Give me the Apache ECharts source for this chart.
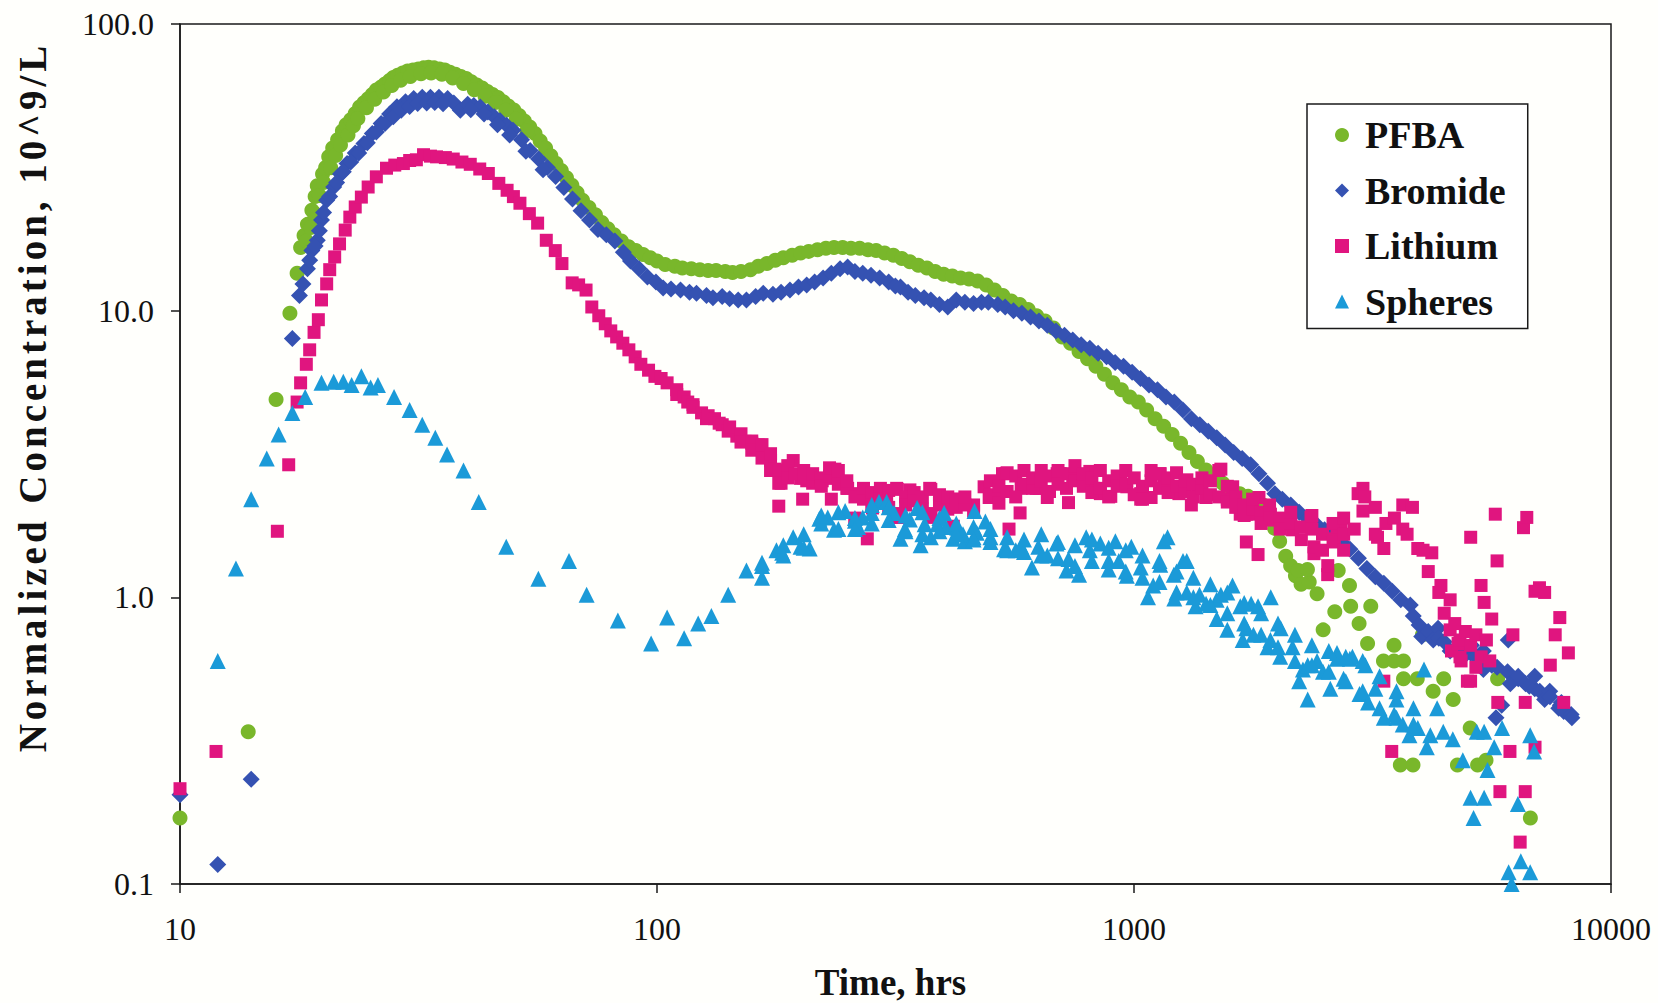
<!DOCTYPE html>
<html><head><meta charset="utf-8">
<script src="https://cdn.jsdelivr.net/npm/echarts@6/dist/echarts.min.js"></script>
<style>html,body{margin:0;padding:0;background:#fffffc;}#c{width:1658px;height:1003px;}</style>
</head><body><div id="c"></div>
<script>
const seriesNames = ['PFBA', 'Bromide', 'Lithium', 'Spheres'];
const xTickValues = [10, 100, 1000, 10000];
const yTickValues = [0.1, 1, 10, 100];
const xTitle = 'Time, hrs';
const yTitle = 'Normalized Concentration, 10^9/L';

const pfba = [[10.0,0.17],[13.9,0.34],[15.9,4.9],[17.0,9.8],[17.6,13.5],[17.9,16.6],[18.2,18.3],[18.5,20.0],[18.9,22.4],[19.2,25.0],[19.4,27.3],[19.9,30.0],[20.2,31.6],[20.5,34.4],[20.9,36.9],[21.4,39.5],[21.9,42.3],[22.3,44.5],[22.8,46.3],[23.3,48.7],[23.8,51.3],[24.3,53.1],[24.8,54.9],[25.3,56.8],[25.8,58.8],[26.4,60.3],[26.9,61.8],[27.5,63.5],[28.0,65.1],[28.6,66.3],[29.3,67.4],[30.0,68.5],[30.8,69.1],[31.6,69.7],[32.4,70.3],[33.2,70.6],[34.1,70.3],[35.0,69.7],[35.9,69.1],[36.8,67.9],[37.8,66.8],[38.8,65.6],[39.8,64.5],[40.8,62.9],[41.9,61.3],[43.0,59.8],[44.1,58.2],[45.2,56.8],[46.4,55.4],[47.6,53.6],[48.8,51.8],[50.1,50.1],[51.4,48.0],[52.7,45.9],[54.1,43.7],[55.5,41.5],[56.9,39.1],[58.4,36.9],[59.9,34.7],[61.4,32.7],[63.0,30.8],[64.6,29.1],[66.3,27.4],[68.0,25.8],[69.8,24.3],[72.0,22.9],[74.3,21.6],[76.6,20.3],[78.9,19.3],[81.3,18.4],[84.2,17.5],[87.2,16.7],[90.3,16.2],[93.5,15.7],[96.8,15.3],[100,14.9],[104,14.5],[109,14.3],[113,14.1],[118,14.0],[123,13.9],[128,13.8],[133,13.8],[139,13.7],[144,13.6],[150,13.7],[157,13.9],[163,14.3],[170,14.6],[177,15.0],[184,15.3],[192,15.6],[200,15.9],[208,16.1],[217,16.3],[226,16.5],[235,16.6],[245,16.6],[255,16.5],[266,16.5],[277,16.3],[288,16.2],[300,15.9],[313,15.6],[326,15.2],[339,14.8],[353,14.4],[368,14.1],[383,13.7],[399,13.4],[416,13.2],[433,13.0],[451,12.9],[470,12.7],[490,12.3],[510,11.8],[531,11.3],[553,10.8],[576,10.5],[600,10.1],[625,9.6],[651,9.2],[678,8.7],[707,8.1],[736,7.7],[767,7.2],[799,6.8],[832,6.4],[867,6.0],[903,5.6],[941,5.3],[980,5.0],[1021,4.8],[1063,4.5],[1107,4.2],[1154,3.95],[1202,3.7],[1252,3.45],[1304,3.2],[1358,2.98],[1415,2.78],[1474,2.62],[1535,2.5],[1599,2.4],[1666,2.3],[1735,2.25],[1807,2.2],[1864,2.1],[1972,1.74],[2020,1.57],[2080,1.39],[2130,1.29],[2180,1.19],[2240,1.11],[2330,1.13],[2420,1.03],[2210,1.24],[2310,1.25],[2680,1.24],[2830,1.1],[2492,0.77],[2636,0.89],[2846,0.93],[2964,0.81],[3088,0.69],[3136,0.93],[3334,0.60],[3509,0.60],[3509,0.68],[3673,0.60],[3673,0.52],[3925,0.52],[3617,0.26],[3845,0.26],[4025,0.74],[4238,0.47],[4459,0.52],[4669,0.44],[4765,0.26],[5252,0.26],[5470,0.27],[5068,0.35],[5784,0.52],[6776,0.17],
[18.4,17.5],[18.8,19.5],[19.1,21.9],[19.6,25.2],[20.0,28.0],[20.7,31.5],[21.2,34.8],[21.7,37.8],[22.5,41.0],[23.1,44.2],[23.6,46.8],[24.6,51.0],[25.6,54.6],[26.7,57.9],[27.8,61.0],[29.0,63.6],[30.4,65.6],[32.0,67.0],[33.6,67.5],[35.4,66.8],[37.3,64.8],[39.3,62.0],[41.4,59.0],[43.6,56.0],[45.8,53.2],[48.2,50.0],[50.7,46.5],[53.4,42.5]];

const bromide = [[10.0,0.205],[12.0,0.117],[14.1,0.232],[17.2,8.0],[17.8,11.3],[18.1,12.4],[18.5,14.0],[18.9,16.2],[19.4,17.6],[19.8,20.7],[20.3,24.3],[21.0,27.0],[21.7,30.0],[22.4,32.6],[23.3,35.5],[24.3,38.3],[25.3,41.5],[26.4,45.0],[27.5,48.5],[28.5,51.4],[29.7,53.5],[30.9,55.0],[32.2,55.5],[33.5,55.5],[34.9,55.5],[36.4,55.0],[37.5,53.0],[38.7,50.0],[40.1,52.5],[41.3,52.0],[42.6,51.3],[44.2,49.3],[45.6,47.5],[46.9,46.0],[48.4,44.3],[49.9,42.6],[52.0,39.5],[54.2,36.2],[56.5,33.8],[58.9,31.6],[61.3,29.4],[63.8,26.9],[66.5,24.5],[69.3,22.3],[72.2,20.7],[75.2,19.2],[78.3,18.4],[81.6,17.5],[85.0,16.0],[88.0,14.9],[91.7,14.0],[95.5,13.1],[99.5,12.6],[103,12.0],[107,11.9],[112,11.8],[117,11.6],[121,11.5],[127,11.3],[131,11.1],[137,11.2],[142,11.0],[148,10.9],[154,10.9],[161,11.2],[167,11.5],[175,11.4],[182,11.6],[190,11.8],[198,12.1],[206,12.3],[214,12.6],[223,13.0],[232,13.5],[242,14.0],[251,14.2],[260,13.7],[270,13.5],[281,13.3],[293,13.0],[306,12.6],[316,12.2],[324,12.1],[336,11.6],[348,11.3],[363,11.1],[375,10.9],[391,10.5],[407,10.3],[424,10.9],[442,10.7],[461,10.6],[479,10.7],[495,10.7],[518,10.5],[537,10.3],[559,10.0],[582,9.8],[607,9.5],[632,9.2],[658,8.9],[686,8.5],[715,8.2],[744,7.9],[775,7.6],[808,7.4],[841,7.1],[876,6.9],[913,6.6],[951,6.4],[991,6.1],[1032,5.8],[1075,5.5],[1120,5.3],[1167,5.0],[1215,4.8],[1266,4.5],[1319,4.2],[1374,4.0],[1431,3.8],[1491,3.6],[1553,3.4],[1618,3.2],[1686,3.05],[1756,2.9],[1828,2.7],[1905,2.5],[1974,2.3],[2046,2.2],[2131,2.1],[2220,1.98],[2313,1.88],[2410,1.8],[2509,1.72],[2614,1.64],[2723,1.56],[2837,1.47],[2955,1.37],[3078,1.26],[3206,1.18],[3340,1.12],[3479,1.05],[3624,0.98],[3795,0.94],[3850,0.86],[3960,0.80],[4010,0.73],[4139,0.76],[4240,0.71],[4340,0.78],[4356,0.72],[4470,0.70],[4600,0.65],[4700,0.66],[4776,0.67],[4950,0.63],[5077,0.64],[5100,0.68],[5207,0.62],[5400,0.56],[5400,0.65],[5480,0.60],[5623,0.58],[5740,0.38],[5770,0.57],[5900,0.42],[6070,0.55],[6090,0.71],[6150,0.5],[6390,0.52],[6390,0.53],[6620,0.5],[6740,0.49],[6920,0.48],[6920,0.53],[7090,0.47],[7259,0.44],[7440,0.47],[7450,0.45],[7770,0.41],[7830,0.42],[7870,0.43],[7960,0.40],[8250,0.39],[8280,0.38],
[18.7,15.0],[19.2,16.8],[19.6,19.0],[20.0,22.0],[20.6,25.0],[21.3,28.0],[22.0,30.5],[22.8,33.0],[23.7,35.5],[24.7,38.5],[25.8,42.0],[26.9,45.0],[28.0,47.5],[29.1,50.0],[30.3,51.5],[31.5,52.8],[32.9,53.0],[34.2,53.2],[35.6,52.7],[40.7,50.2],[43.4,48.5],[46.3,44.5],[49.1,41.0],[53.1,36.0],[57.7,31.0]];

const lithium = [[10.0,0.215],[11.9,0.29],[16.0,1.7],[16.9,2.9],[17.6,4.8],[17.9,5.6],[18.4,6.5],[18.7,7.3],[19.1,8.4],[19.5,9.3],[19.8,10.9],[20.3,12.4],[20.6,13.9],[21.1,15.4],[21.6,17.1],[22.2,19.1],[22.7,21.2],[23.3,23.0],[24.0,24.9],[24.8,27.0],[25.8,29.3],[27.1,31.4],[28.2,32.2],[29.4,32.6],[30.3,33.4],[31.3,33.6],[32.4,35.0],[33.5,34.6],[34.5,34.4],[36.0,34.2],[37.4,33.8],[39.0,33.0],[40.6,32.4],[42.5,31.2],[44.3,30.1],[46.6,27.8],[48.5,26.3],[50.0,25.0],[51.6,23.7],[54.0,21.8],[56.2,20.2],[58.6,17.6],[61.2,16.2],[63.2,14.6],[66.4,12.5],[68.5,12.3],[71.0,11.8],[73.0,10.3],[75.5,9.6],[77.9,9.0],[80.0,8.5],[82.3,8.1],[84.8,7.7],[87.3,7.3],[90.0,6.9],[92.5,6.5],[96.0,6.2],[99.0,5.9],[102,5.8],[105,5.6],[110,5.3],[110,5.1],[114,5.0],[116,4.8],[119,4.7],[119,4.6],[124,4.4],[127,4.2],[128,4.3],[132,4.2],[135,4.05],[137,4.0],[141,3.8],[147,3.65],[153,3.5],[158,3.45],[163,3.4],[168,3.1],[173,3.0],[177,2.8],[180,2.08],[182,2.5],[186,2.7],[193,3.0],[200,2.6],[202,2.2],[206,2.55],[212,2.5],[222,2.55],[230,2.6],[232,2.2],[236,2.8],[244,2.5],[251,2.4],[260,1.84],[265,2.3],[271,2.2],[276,1.6],[283,2.05],[290,2.15],[303,2.23],[318,2.4],[318,1.9],[324,1.9],[339,2.37],[357,2.23],[373,2.4],[375,1.9],[393,2.1],[405,2.05],[418,1.77],[425,2.2],[428,2.2],[461,2.0],[461,2.1],[485,2.43],[497,2.23],[515,2.23],[530,2.7],[539,2.7],[547,1.73],[577,1.97],[580,2.4],[624,2.4],[633,2.4],[658,2.23],[690,2.7],[700,2.7],[729,2.14],[744,2.6],[755,2.6],[808,2.75],[823,2.4],[850,2.3],[894,2.25],[938,2.6],[966,2.43],[1033,2.3],[1033,2.2],[1086,2.23],[1135,2.7],[1155,2.57],[1204,2.4],[1242,2.3],[1291,2.57],[1319,2.1],[1360,2.4],[1416,2.23],[1521,2.8],[1569,2.2],[1610,2.43],[1670,1.95],[1720,1.95],[1720,1.56],[1760,1.95],[1820,1.41],[1828,2.23],[1932,1.86],[1932,1.95],[2131,1.8],[2150,1.72],[2350,1.9],[2384,1.42],[2384,1.5],[2547,1.2],[2630,1.6],[2664,1.76],[2718,1.8],[2950,2.3],[3020,2.4],[3020,2.0],[3240,1.62],[3340,1.48],[3340,0.51],[3470,0.29],[3660,2.1],[3660,1.73],[3935,1.48],[4210,1.43],[4400,1.1],[4600,0.98],[4600,0.77],[4630,0.65],[4780,0.69],[4824,0.71],[4850,0.6],[4950,0.76],[5000,0.51],[5077,0.68],[5077,0.51],[5080,1.62],[5340,1.1],[5343,0.62],[5420,0.96],[5570,0.6],[5720,1.95],[5790,0.43],[5850,0.21],[6140,0.29],[6450,0.14],[6554,1.75],[6610,0.43],[6610,0.21],[6660,1.9],[6930,0.3],[6930,1.05],[7080,1.08],[7460,0.58],[7810,0.85],[7960,0.43],[8140,0.64],
[142,3.93],[150,3.72],[150,3.48],[158,3.51],[158,3.26],[166,3.41],[166,3.06],[173,3.17],[173,2.77],[180,2.77],[180,2.50],[188,2.88],[188,2.61],[195,2.70],[203,2.61],[203,2.77],[212,2.55],[212,2.70],[221,2.61],[221,2.44],[230,2.65],[230,2.83],[240,2.77],[240,2.48],[250,2.40],[250,2.55],[260,2.24],[260,1.89],[271,2.24],[271,2.40],[282,2.32],[282,2.10],[294,2.40],[294,2.20],[306,2.36],[306,2.06],[319,2.38],[319,1.96],[332,2.24],[332,2.10],[346,2.32],[346,2.17],[360,2.24],[360,2.03],[375,2.38],[375,1.96],[391,2.13],[391,2.28],[407,2.03],[407,2.24],[424,2.19],[424,2.06],[442,2.10],[442,2.24],[500,2.28],[500,2.55],[521,2.44],[521,2.13],[542,2.72],[542,2.34],[565,2.65],[565,2.24],[588,2.48],[588,2.77],[613,2.40],[613,2.61],[639,2.55],[639,2.77],[665,2.65],[665,2.34],[693,2.77],[693,2.48],[722,2.70],[722,2.40],[752,2.55],[752,2.88],[783,2.44],[783,2.70],[816,2.61],[816,2.32],[850,2.77],[850,2.40],[885,2.55],[885,2.24],[922,2.65],[922,2.44],[961,2.77],[961,2.48],[1001,2.61],[1001,2.28],[1042,2.44],[1042,2.20],[1086,2.55],[1086,2.77],[1131,2.70],[1131,2.40],[1179,2.61],[1179,2.32],[1228,2.44],[1228,2.72],[1279,2.34],[1279,2.55],[1332,2.48],[1332,2.24],[1388,2.40],[1388,2.61],[1446,2.28],[1446,2.55],[1506,2.77],[1506,2.24],[1569,2.15],[1569,2.44],[1634,2.24],[1634,2.06],[1702,2.10],[1702,1.93],[1773,2.03],[1773,2.20],[1847,1.98],[1847,1.81],[1924,1.93],[1924,2.10],[2025,1.89],[2025,1.73],[2131,1.81],[2131,1.98],[2243,1.76],[2243,1.59],[2360,1.73],[2360,1.93],[2484,1.66],[2484,1.46],[2614,1.81],[2614,1.56],[2751,1.66],[2751,1.89],
[2548,1.29],[2751,1.46],[2895,1.73],[3047,2.24],[3206,2.06],[3206,1.66],[3374,1.81],[3515,1.89],[3737,1.66],[3835,2.06],[4036,1.46],[4139,1.23],[4356,1.04],[4470,0.88],[4704,0.81],[4824,0.62],[5209,0.74],[5209,0.57],[5480,0.71],[5623,0.84],[5770,1.34],[6228,0.74],[7259,1.04],[7639,0.74]];

const spheres = [[12.0,0.60],[13.1,1.26],[14.1,2.2],[15.2,3.05],[16.1,3.7],[17.2,4.4],[18.3,5.0],[19.8,5.6],[21.0,5.65],[22.0,5.65],[22.9,5.5],[24.0,5.9],[25.1,5.4],[26.0,5.5],[28.1,5.0],[30.3,4.5],[32.2,4.0],[34.3,3.6],[36.3,3.15],[39.3,2.77],[42.3,2.15],[48.3,1.5],[56.4,1.16],[65.4,1.34],[71.2,1.02],[82.8,0.83],[97.2,0.69],[105,0.85],[114,0.72],[122,0.81],[130,0.86],[141,1.02],[154,1.24],[166,1.32],[178,1.46],[183,1.43],[193,1.62],[200,1.5],[209,1.48],[219,1.88],[228,1.9],[235,1.72],[248,2.0],[260,1.85],[264,1.76],[270,1.9],[282,1.97],[292,2.15],[303,2.15],[314,1.97],[324,1.6],[331,1.73],[339,1.87],[351,2.05],[357,1.52],[364,1.8],[375,1.62],[387,1.8],[400,1.97],[403,1.76],[418,1.6],[426,1.75],[438,1.66],[442,1.57],[461,1.62],[463,2.0],[468,1.68],[488,1.84],[500,1.62],[534,1.47],[565,1.46],[580,1.5],[611,1.27],[630,1.5],[658,1.4],[688,1.54],[722,1.24],[729,1.36],[767,1.2],[794,1.62],[808,1.46],[850,1.54],[885,1.34],[914,1.57],[929,1.34],[966,1.19],[987,1.5],[1033,1.27],[1070,1.0],[1097,1.1],[1135,1.3],[1155,1.57],[1176,1.62],[1212,1.2],[1215,0.99],[1267,1.34],[1290,1.34],[1290,1.04],[1346,0.93],[1372,1.02],[1416,0.95],[1490,0.98],[1491,0.84],[1521,1.02],[1569,0.77],[1609,1.1],[1670,0.93],[1690,0.71],[1720,0.78],[1760,0.95],[1780,0.74],[1820,0.93],[1905,0.67],[1935,1.0],[1932,0.71],[2025,0.62],[2030,0.78],[2150,0.67],[2220,0.51],[2260,0.56],[2313,0.58],[2313,0.44],[2420,0.6],[2490,0.55],[2580,0.48],[2664,0.61],[2664,0.64],[2750,0.52],[2835,0.61],[2870,0.62],[2970,0.46],[3055,0.58],[3095,0.43],[3206,0.48],[3340,0.38],[3510,0.39],[3550,0.44],[3660,0.36],[3780,0.33],[3935,0.35],[4055,0.56],[4110,0.3],[4180,0.33],[4320,0.41],[4450,0.34],[4660,0.32],[4890,0.27],[5077,0.2],[5150,0.17],[5230,0.34],[5420,0.34],[5420,0.2],[5510,0.25],[5690,0.3],[5910,0.35],[6100,0.11],[6190,0.1],[6380,0.19],[6470,0.12],[6770,0.11],[6770,0.33],[6900,0.29],
[166,1.285],[166,1.17],[184,1.52],[184,1.40],[203,1.66],[203,1.49],[221,1.81],[221,1.93],[240,1.73],[240,1.98],[260,1.89],[260,1.73],[282,2.10],[282,1.81],[306,2.06],[306,1.86],[332,1.93],[332,1.70],[360,1.98],[360,1.66],[391,1.89],[391,1.70],[424,1.81],[424,1.66],[461,1.76],[461,1.59],[500,1.73],[500,1.56],[542,1.62],[542,1.46],[588,1.59],[588,1.44],[639,1.66],[639,1.40],[693,1.56],[693,1.37],[752,1.52],[752,1.285],[816,1.59],[816,1.34],[885,1.49],[885,1.25],[961,1.46],[961,1.23],[1042,1.40],[1042,1.17],[1131,1.34],[1131,1.13],[1228,1.23],[1228,1.04],[1332,1.17],[1332,1.00],[1446,1.11],[1446,0.94],[1569,1.04],[1569,0.88],[1702,0.955],[1702,0.81],[1847,0.88],[1847,0.74],[2004,0.81],[2004,0.67],[2175,0.74],[2175,0.60],[2360,0.68],[2360,0.58],[2561,0.65],[2561,0.55],[2779,0.62],[2779,0.51],[3016,0.60],[3016,0.47],[3272,0.53],[3272,0.41],[3551,0.47],[3551,0.38],[3853,0.41],[3853,0.36]];

const colors = ['#79b72b', '#3552b2', '#e0157f', '#1b9ad8'];
const symbols = ['circle', 'diamond', 'rect', 'triangle'];
const symbolSizes = [15, 17, 13, 16];
const dataSets = [pfba, bromide, lithium, spheres];

const serif = '"Liberation Serif", "Times New Roman", serif';
const chart = echarts.init(document.getElementById('c'), null, {renderer: 'svg'});
chart.setOption({
  backgroundColor: '#fffffc',
  animation: false,
  grid: {left: 180, right: 47, top: 24, bottom: 119, outerBoundsMode: 'none', containLabel: false,
         show: true, borderColor: '#1a1a1a', borderWidth: 1.5, backgroundColor: 'rgba(0,0,0,0)'},
  legend: {
    orient: 'vertical', left: 1307, top: 104,
    padding: [12, 22, 8, 28], itemGap: 17.5, itemWidth: 14, itemHeight: 14,
    borderColor: '#1a1a1a', borderWidth: 1.5, backgroundColor: '#ffffff',
    textStyle: {fontFamily: serif, fontWeight: 'bold', fontSize: 38, color: '#111', padding: [0, 0, 0, 11]},
    data: seriesNames
  },
  xAxis: {
    type: 'log', logBase: 10, min: xTickValues[0], max: xTickValues[xTickValues.length - 1],
    name: xTitle, nameLocation: 'middle', nameGap: 81,
    nameTextStyle: {fontFamily: serif, fontWeight: 'bold', fontSize: 37, lineHeight: 34, color: '#111', padding: [0, 10, 0, 0]},
    axisLine: {show: true, lineStyle: {color: '#1a1a1a', width: 1.5}},
    axisTick: {show: true, inside: false, length: 9, lineStyle: {color: '#1a1a1a', width: 1.5}},
    minorTick: {show: false}, splitLine: {show: false},
    axisLabel: {fontFamily: serif, fontSize: 32, color: '#111', margin: 29, formatter: v => String(Math.round(v))}
  },
  yAxis: {
    type: 'log', logBase: 10, min: yTickValues[0], max: yTickValues[yTickValues.length - 1],
    name: yTitle, nameLocation: 'middle', nameGap: 128, nameRotate: 90,
    nameTextStyle: {fontFamily: serif, fontWeight: 'bold', fontSize: 39, color: '#111', padding: [0, 0, 0, 114]},
    axisLine: {show: true, lineStyle: {color: '#1a1a1a', width: 1.5}},
    axisTick: {show: true, inside: false, length: 9, lineStyle: {color: '#1a1a1a', width: 1.5}},
    minorTick: {show: false}, splitLine: {show: false},
    axisLabel: {fontFamily: serif, fontSize: 32, color: '#111', margin: 26, formatter: v => Number(v).toFixed(1)}
  },
  series: seriesNames.map((n, i) => ({
    name: n, type: 'scatter', data: dataSets[i],
    symbol: symbols[i], symbolSize: symbolSizes[i],
    itemStyle: {color: colors[i], opacity: 1},
    emphasis: {disabled: true}, z: 2 + i
  }))
});
// the scanned original spaces out the letters of the vertical axis title
document.querySelectorAll('#c text').forEach(function (el) {
  if (el.textContent === yTitle) { el.style.letterSpacing = '4px'; }
});
</script></body></html>
